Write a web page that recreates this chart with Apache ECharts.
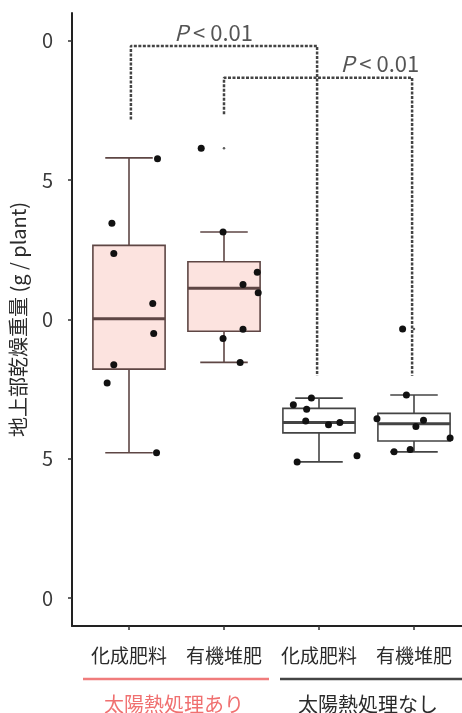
<!DOCTYPE html>
<html>
<head>
<meta charset="utf-8">
<script src="https://cdn.jsdelivr.net/npm/echarts@6/dist/echarts.min.js"></script>
<style>
  html, body { margin: 0; padding: 0; background: #fff; }
  #chart { width: 462px; height: 713px; }
</style>
</head>
<body>
<div id="chart"></div>
<script>
// categories (x positions 1..4)
const categories = ['化成肥料', '有機堆肥', '化成肥料', '有機堆肥'];
const groupLabels = ['太陽熱処理あり', '太陽熱処理なし'];
const yTickValues = [0, 5, 10, 15, 20];
const yTickLabels = ['0', '5', '0', '5', '0'];

// box stats: [x, lowerWhisker, q1, median, q3, upperWhisker]
const boxStats = [
  [1, 5.22, 8.22, 10.03, 12.66, 15.80],
  [2, 8.46, 9.58, 11.12, 12.07, 13.14],
  [3, 4.89, 5.93, 6.30, 6.81, 7.18],
  [4, 5.25, 5.64, 6.26, 6.63, 7.29]
];

// boxplot outliers (small dots)
const outliers = [[2, 16.15], [4, 9.66]];

// jittered raw points [x, value]
const points1 = [[1.30, 15.77], [0.82, 13.45], [0.84, 12.37], [1.25, 10.57], [1.26, 9.50], [0.84, 8.38], [0.77, 7.72], [1.29, 5.22]];
const points2 = [[1.76, 16.15], [1.99, 13.14], [2.35, 11.70], [2.20, 11.26], [2.36, 10.96], [2.20, 9.65], [1.99, 9.32], [2.17, 8.46]];
const points3 = [[2.92, 7.18], [2.73, 6.94], [2.87, 6.78], [2.86, 6.36], [3.10, 6.22], [3.22, 6.30], [3.40, 5.11], [2.77, 4.89]];
const points4 = [[3.88, 9.66], [3.92, 7.29], [3.61, 6.44], [4.10, 6.38], [4.02, 6.16], [4.38, 5.75], [3.96, 5.33], [3.79, 5.25]];

// significance brackets
const bracket1 = [[1.02, 17.18], [1.02, 19.82], [2.98, 19.82], [2.98, 7.98]];
const bracket2 = [[2, 17.37], [2, 18.68], [3.98, 18.68], [3.98, 7.98]];
const pLabels = [[1.89, 20.3], [3.64, 19.2]];

const font = '"Noto Sans CJK JP", "Noto Sans", sans-serif';
const fills = ['#fce3df', '#fce3df', '#ffffff', '#ffffff'];
const strokes = ['#5e4644', '#5e4644', '#444444', '#444444'];

const chart = echarts.init(document.getElementById('chart'));

function renderBox(params, api) {
  const i = params.dataIndex;
  const x = api.value(0);
  const lo = api.coord([x, api.value(1)]);
  const q1 = api.coord([x, api.value(2)]);
  const med = api.coord([x, api.value(3)]);
  const q3 = api.coord([x, api.value(4)]);
  const hi = api.coord([x, api.value(5)]);
  const boxW = api.size([0.76, 0])[0];
  const capW = api.size([0.5, 0])[0];
  const cx = q1[0];
  const lineStyle = { stroke: strokes[i], lineWidth: 1.6 };
  return {
    type: 'group',
    children: [
      { type: 'line', shape: { x1: cx, y1: hi[1], x2: cx, y2: q3[1] }, style: lineStyle },
      { type: 'line', shape: { x1: cx, y1: q1[1], x2: cx, y2: lo[1] }, style: lineStyle },
      { type: 'line', shape: { x1: cx - capW / 2, y1: hi[1], x2: cx + capW / 2, y2: hi[1] }, style: lineStyle },
      { type: 'line', shape: { x1: cx - capW / 2, y1: lo[1], x2: cx + capW / 2, y2: lo[1] }, style: lineStyle },
      { type: 'rect', shape: { x: cx - boxW / 2, y: q3[1], width: boxW, height: q1[1] - q3[1] },
        style: { fill: fills[i], stroke: strokes[i], lineWidth: 1.6 } },
      { type: 'line', shape: { x1: cx - boxW / 2, y1: med[1], x2: cx + boxW / 2, y2: med[1] },
        style: { stroke: strokes[i], lineWidth: 3 } }
    ]
  };
}

const pointSeries = [points1, points2, points3, points4].map(d => ({
  type: 'scatter',
  data: d,
  symbolSize: 7,
  itemStyle: { color: '#111', opacity: 1 },
  z: 5,
  silent: true
}));

const bracketStyle = { color: '#444', width: 2.5, type: [3, 1.5] };

chart.setOption({
  animation: false,
  grid: { left: 72, top: 13, width: 399, bottom: 87, outerBoundsMode: 'none' },
  xAxis: {
    type: 'value',
    min: 0.4,
    max: 4.6,
    splitLine: { show: false },
    axisLine: { show: true, onZero: false, lineStyle: { color: '#222', width: 2 } },
    axisTick: { show: true, length: 4, customValues: [1, 2, 3, 4], lineStyle: { color: '#333', width: 1.5 } },
    axisLabel: {
      customValues: [1, 2, 3, 4],
      formatter: v => categories[Math.round(v) - 1],
      margin: 20,
      fontSize: 19,
      color: '#2b2b2b',
      fontFamily: font
    }
  },
  yAxis: {
    type: 'value',
    min: -1,
    max: 21,
    name: '地上部乾燥重量 (g / plant)',
    nameLocation: 'middle',
    nameGap: 44,
    nameTextStyle: { fontSize: 20, color: '#2b2b2b', fontFamily: font },
    splitLine: { show: false },
    axisLine: { show: true, onZero: false, lineStyle: { color: '#222', width: 2 } },
    axisTick: { show: true, length: 4, customValues: yTickValues, lineStyle: { color: '#333', width: 1.5 } },
    axisLabel: {
      customValues: yTickValues,
      formatter: v => yTickLabels[yTickValues.indexOf(v)],
      margin: 19,
      fontSize: 20,
      color: '#3a3a3a',
      fontFamily: font
    }
  },
  series: [
    {
      type: 'custom',
      renderItem: renderBox,
      data: boxStats,
      encode: { x: 0, y: [1, 2, 3, 4, 5] },
      z: 2,
      silent: true
    },
    {
      type: 'scatter',
      data: outliers,
      symbolSize: 2.5,
      itemStyle: { color: '#333' },
      z: 4,
      silent: true
    },
    ...pointSeries,
    {
      type: 'line',
      data: bracket1,
      symbol: 'none',
      lineStyle: bracketStyle,
      z: 3,
      silent: true
    },
    {
      type: 'line',
      data: bracket2,
      symbol: 'none',
      lineStyle: bracketStyle,
      z: 3,
      silent: true
    },
    {
      type: 'scatter',
      data: pLabels,
      symbolSize: 0,
      silent: true,
      label: {
        show: true,
        position: 'inside',
        formatter: '{i|P} < 0.01',
        fontSize: 22,
        color: '#2b2b2b',
        fontFamily: font,
        rich: { i: { fontStyle: 'italic', fontSize: 22, color: '#2b2b2b', fontFamily: font } }
      }
    }
  ],
  graphic: [
    { type: 'line', shape: { x1: 83, y1: 679, x2: 269, y2: 679 }, style: { stroke: '#f07c7c', lineWidth: 2.5 } },
    { type: 'line', shape: { x1: 280, y1: 679, x2: 462, y2: 679 }, style: { stroke: '#444', lineWidth: 2.5 } },
    { type: 'text', x: 174, y: 704, style: { text: groupLabels[0], fill: '#f07070', font: '20px ' + font, textAlign: 'center', textVerticalAlign: 'middle' } },
    { type: 'text', x: 368, y: 704, style: { text: groupLabels[1], fill: '#2b2b2b', font: '20px ' + font, textAlign: 'center', textVerticalAlign: 'middle' } }
  ]
});
</script>
</body>
</html>
